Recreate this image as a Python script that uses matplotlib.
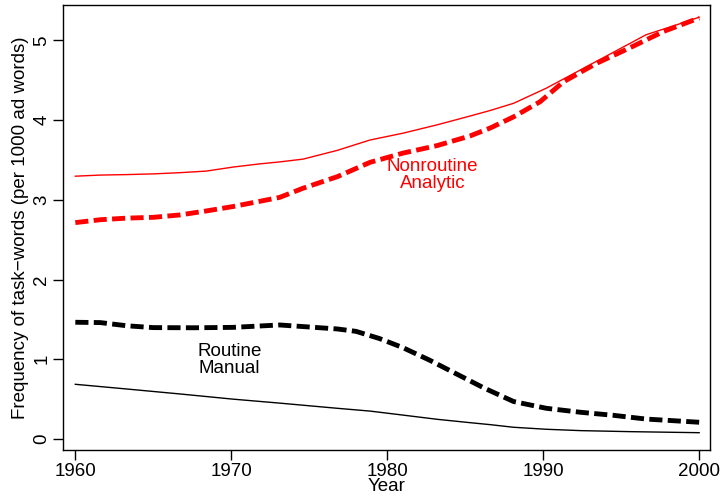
import numpy as np
import matplotlib.pyplot as plt

plt.rcParams['font.family'] = ['Liberation Sans', 'DejaVu Sans']

# ---- smoothed task-word frequencies, per 1000 ad words ----
# nonroutine analytic, solid
years_na = [1960, 1961.6, 1963.3, 1965.0, 1966.7, 1968.4, 1970.1, 1971.8, 1973.1,
            1974.6, 1976.8, 1978.9, 1981.0, 1983.2, 1985.3, 1986.6, 1988.1,
            1990.2, 1992.4, 1994.5, 1996.6, 1998.8, 2000]
na_solid = [3.296, 3.31, 3.316, 3.325, 3.34, 3.36, 3.41, 3.45, 3.475,
            3.51, 3.62, 3.75, 3.835, 3.94, 4.05, 4.12, 4.21,
            4.40, 4.63, 4.85, 5.07, 5.21, 5.29]

# nonroutine analytic, dashed
years_na_d = [1960, 1961.6, 1963.3, 1965.0, 1966.7, 1968.4, 1970.1, 1971.8, 1973.1,
              1974.6, 1976.8, 1978.9, 1981.0, 1983.2, 1985.3, 1986.6, 1988.1,
              1989.8, 1991.3, 1993.4, 1995.6, 1997.7, 2000]
na_dash = [2.714, 2.75, 2.77, 2.78, 2.81, 2.86, 2.915, 2.98, 3.03,
           3.145, 3.29, 3.47, 3.585, 3.68, 3.80, 3.90, 4.04,
           4.23, 4.48, 4.71, 4.91, 5.11, 5.28]

# routine manual, dashed
years_rm_d = [1960, 1961.6, 1963.3, 1965.0, 1967.6, 1970.1, 1973.1, 1974.6, 1976.8,
              1978.0, 1979.5, 1981.0, 1982.7, 1984.4, 1986.2, 1988.1, 1990.2,
              1992.4, 1994.5, 1996.6, 2000]
rm_dash = [1.464, 1.46, 1.42, 1.397, 1.395, 1.40, 1.43, 1.41, 1.38,
           1.35, 1.26, 1.146, 0.99, 0.82, 0.64, 0.47, 0.385,
           0.335, 0.297, 0.25, 0.21]

# routine manual, solid
years_rm = [1960, 1963.3, 1966.7, 1970.1, 1973.1, 1976.8, 1978.9, 1981.0, 1983.2,
            1985.3, 1986.6, 1988.1, 1990.2, 1992.4, 1995.6, 2000]
rm_solid = [0.686, 0.627, 0.565, 0.50, 0.45, 0.385, 0.35, 0.30, 0.247,
            0.205, 0.18, 0.147, 0.122, 0.105, 0.092, 0.079]

x_ticks = [1960, 1970, 1980, 1990, 2000]
y_ticks = [0, 1, 2, 3, 4, 5]

# ---- figure ----
fig = plt.figure(figsize=(7.2, 5), dpi=100)
ax = fig.add_axes([0.0875, 0.1, 0.8985, 0.89])

dash = (2.7, 1.1)
ax.plot(years_na, na_solid, color='red', lw=1.0, solid_joinstyle='round')
ax.plot(years_na_d, na_dash, color='red', lw=3.5, dashes=dash,
        dash_capstyle='butt', dash_joinstyle='round')
ax.plot(years_rm, rm_solid, color='black', lw=1.0, solid_joinstyle='round')
ax.plot(years_rm_d, rm_dash, color='black', lw=3.5, dashes=dash,
        dash_capstyle='butt', dash_joinstyle='round')

fs = 13.5
ax.text(1982.9, 3.31, 'Nonroutine\nAnalytic', color='red', fontsize=fs,
        ha='center', va='center', linespacing=1.0)
ax.text(1969.9, 0.99, 'Routine\nManual', color='black', fontsize=fs,
        ha='center', va='center', linespacing=1.0)

ax.set_xlim(1959.21, 2000.69)
ax.set_ylim(-0.138, 5.443)
ax.set_xticks(x_ticks)
ax.set_yticks(y_ticks)
ax.tick_params(direction='out', length=7, width=1, labelsize=fs, pad=2)
for lab in ax.get_yticklabels():
    lab.set_rotation(90)
    lab.set_va('center')
for s in ax.spines.values():
    s.set_linewidth(1.0)

ax.set_xlabel('Year', fontsize=fs, labelpad=-1)
ax.set_ylabel('Frequency of task\u2212words (per 1000 ad words)', fontsize=fs, labelpad=3)

fig.savefig('out.png', dpi=100)
